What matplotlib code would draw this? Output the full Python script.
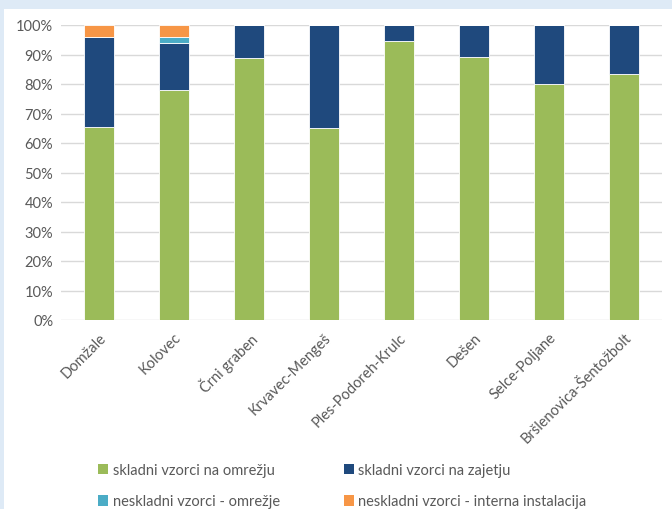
import matplotlib
matplotlib.use("Agg")
import matplotlib.pyplot as plt
from matplotlib.patches import Rectangle, Patch
import numpy as np

plt.rcParams['font.family'] = ['Lato', 'DejaVu Sans']

categories = ["Domžale", "Kolovec", "Črni graben", "Krvavec-Mengeš",
              "Ples-Podoreh-Krulc", "Dešen", "Selce-Poljane", "Bršlenovica-Šentožbolt"]
skladni_omrezje = [65.5, 78.0, 88.7, 65.0, 94.7, 89.0, 80.0, 83.3]
skladni_zajetje = [30.5, 16.0, 11.3, 35.0, 5.3, 11.0, 20.0, 16.7]
neskladni_omrezje = [0.0, 2.0, 0, 0, 0, 0, 0, 0]
neskladni_interna = [4.0, 4.0, 0, 0, 0, 0, 0, 0]

series = [
    ("skladni vzorci na omrežju", skladni_omrezje, "#9BBB59"),
    ("skladni vzorci na zajetju", skladni_zajetje, "#1F497D"),
    ("neskladni vzorci - omrežje", neskladni_omrezje, "#4BACC6"),
    ("neskladni vzorci - interna instalacija", neskladni_interna, "#F79646"),
]

fig = plt.figure(figsize=(6.72, 5.10), dpi=100, facecolor="#DEEAF6")
fig.patches.append(Rectangle((4/672, 0), 1 - 4/672, 1 - 10/510, transform=fig.transFigure,
                             facecolor="white", edgecolor="none", zorder=-10))
ax = fig.add_axes([61.5/672, 189/510, 600/672, 295/510])
ax.set_zorder(2)
ax.set_facecolor("none")

x = np.arange(len(categories))
bottom = np.zeros(len(categories))
handles = []
for label, vals, color in series:
    vals = np.array(vals, dtype=float)
    ax.bar(x, vals, 0.4, bottom=bottom, color=color, edgecolor="white", linewidth=0.6,
           label=label, zorder=3)
    bottom += vals
    handles.append(Patch(facecolor=color, label=label))

ax.set_xlim(-0.5, len(categories) - 0.5)
ax.set_ylim(0, 100)
ax.set_yticks(np.arange(0, 101, 10))
ax.set_yticklabels([f"{v}%" for v in range(0, 101, 10)])
ax.yaxis.grid(True, color="#D9D9D9", linewidth=1, zorder=0)
ax.set_axisbelow(True)
for s in ax.spines.values():
    s.set_visible(False)
ax.tick_params(axis="both", length=0, labelsize=10.5, labelcolor="#595959")
ax.tick_params(axis="y", pad=6)
ax.set_xticks(x)
ax.set_xticklabels(categories, rotation=45, ha="right", rotation_mode="anchor")
ax.tick_params(axis="x", pad=7)

order = [0, 2, 1, 3]
leg = fig.legend([handles[i] for i in order], [series[i][0] for i in order],
                 loc="upper left", bbox_to_anchor=(98/672, 1 - 464/510), ncol=2,
                 frameon=False, fontsize=10.5, handlelength=0.7, handleheight=0.7,
                 handletextpad=0.3, labelspacing=1.2, columnspacing=4.4,
                 borderaxespad=0, borderpad=0)
leg.set_zorder(5)
for t in leg.get_texts():
    t.set_color("#595959")

fig.savefig("out.png", dpi=100, facecolor=fig.get_facecolor())
